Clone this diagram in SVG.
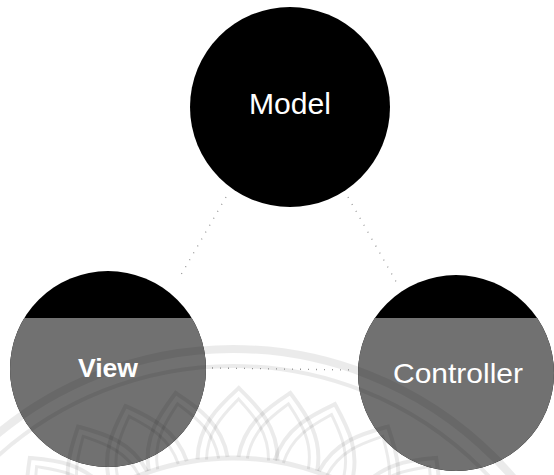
<svg xmlns="http://www.w3.org/2000/svg" xmlns:xlink="http://www.w3.org/1999/xlink" width="554" height="475" viewBox="0 0 554 475">
<style>
.node{fill:#000}
.lower{fill:#717171}
.label{font-family:"Liberation Sans",Arial,sans-serif;fill:#fff}
.conn{fill:none;stroke:#6a6a6a;stroke-width:1.3;stroke-dasharray:1 7;opacity:0.7}
.wm{fill:none;stroke:#000;stroke-opacity:0.08}
</style>
<defs>
<clipPath id="lowerClip"><rect x="0" y="318" width="554" height="157"/></clipPath>
<g id="petal">
<path d="M193 460 C193 425 215 405 233 388 C251 405 273 425 273 460" stroke-width="4"/>
<path d="M202 460 C202 430 220 413 233 399 C246 413 264 430 264 460" stroke-width="3"/>
</g>
</defs>
<rect width="554" height="475" fill="#fff"/>
<g id="connectors">
<path class="conn" d="M226 197 L178 280"/>
<path class="conn" d="M348 197 L398 285"/>
<path class="conn" d="M212 368 L352 370"/>
</g>
<g id="model">
<circle class="node" cx="290" cy="107" r="100"/>
</g>
<g id="view">
<circle class="node" cx="108" cy="369" r="98"/>
<circle class="lower" cx="108" cy="369" r="98" clip-path="url(#lowerClip)"/>
</g>
<g id="controller">
<circle class="node" cx="456" cy="373" r="98"/>
<circle class="lower" cx="456" cy="373" r="98" clip-path="url(#lowerClip)"/>
</g>
<g id="watermark" class="wm">
<circle cx="233" cy="718" r="369" stroke-width="8"/>
<circle cx="233" cy="718" r="352" stroke-width="4"/>
<circle cx="233" cy="718" r="260" stroke-width="5"/>
<use xlink:href="#petal" transform="rotate(-38 233 718)"/>
<use xlink:href="#petal" transform="rotate(-28 233 718)"/>
<use xlink:href="#petal" transform="rotate(-19 233 718)"/>
<use xlink:href="#petal" transform="rotate(-10 233 718)"/>
<use xlink:href="#petal" transform="rotate(1 233 718)"/>
<use xlink:href="#petal" transform="rotate(10 233 718)"/>
<use xlink:href="#petal" transform="rotate(18 233 718)"/>
<use xlink:href="#petal" transform="rotate(28 233 718)"/>
<use xlink:href="#petal" transform="rotate(38 233 718)"/>
</g>
<g id="labels">
<text class="label" x="290" y="114" font-size="29" text-anchor="middle" textLength="82" lengthAdjust="spacingAndGlyphs">Model</text>
<text class="label" x="108" y="377" font-size="26" font-weight="bold" text-anchor="middle" textLength="60" lengthAdjust="spacingAndGlyphs">View</text>
<text class="label" x="458" y="383" font-size="28" text-anchor="middle" textLength="130" lengthAdjust="spacingAndGlyphs">Controller</text>
</g>
</svg>
